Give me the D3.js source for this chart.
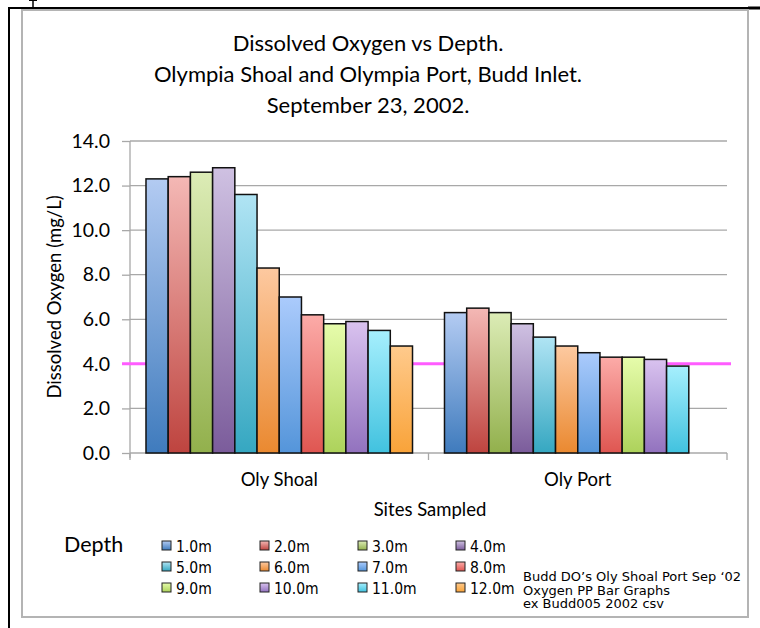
<!DOCTYPE html>
<html>
<head>
<meta charset="utf-8">
<script src="https://cdn.jsdelivr.net/npm/d3@7"></script>
<style>
  body { margin: 0; background: #fff; }
  svg { display: block; }
  .title { font-family: Lato, "Open Sans", sans-serif; font-size: 22px; fill: #000; }
  .axis-text { font-family: Lato, "Open Sans", sans-serif; font-size: 18.5px; fill: #000; }
  .leg-text { font-family: "DejaVu Sans Condensed", "DejaVu Sans", sans-serif; font-stretch: condensed; font-size: 15.5px; fill: #000; }
  .note { font-family: "DejaVu Sans", sans-serif; font-size: 13px; fill: #000; }
</style>
</head>
<body>
<div id="chart"></div>
<script>
var width = 760;
var height = 628;

// data
var sites = ["Oly Shoal", "Oly Port"];
var depths = ["1.0m", "2.0m", "3.0m", "4.0m", "5.0m", "6.0m",
              "7.0m", "8.0m", "9.0m", "10.0m", "11.0m", "12.0m"];
var shoalDO = [12.3, 12.4, 12.6, 12.8, 11.6, 8.3, 7.0, 6.2, 5.8, 5.9, 5.5, 4.8];
var portDO = [6.3, 6.5, 6.3, 5.8, 5.2, 4.8, 4.5, 4.3, 4.3, 4.2, 3.9];
var yTicks = [0, 2, 4, 6, 8, 10, 12, 14];
var threshold = 4.0;
var titleLines = ["Dissolved Oxygen vs Depth.",
                  "Olympia Shoal and Olympia Port, Budd Inlet.",
                  "September 23, 2002."];
var notes = ["Budd DO\u2019s Oly Shoal Port Sep \u201802",
             "Oxygen PP Bar Graphs",
             "ex Budd005 2002 csv"];

// excel-ish gradient palette (top, bottom)
var topColors = ["#b3cbf2", "#f4b8b5", "#dcecb6", "#cfc1e2", "#b0e4f4", "#fdc9a0",
                 "#abcbfc", "#fcaba8", "#e6fcab", "#d9c2ef", "#a6effd", "#ffca8c"];
var botColors = ["#3f7bbd", "#be443f", "#92b04c", "#7b5c9b", "#35a7c1", "#ea8930",
                 "#5495da", "#df5651", "#add25b", "#9272be", "#41c2df", "#f9a339"];

var rows = [];
shoalDO.forEach(function(v, i) { rows.push({site: sites[0], depth: depths[i], i: i, value: v}); });
portDO.forEach(function(v, i) { rows.push({site: sites[1], depth: depths[i], i: i, value: v}); });

var svg = d3.select("#chart").append("svg")
  .attr("width", width)
  .attr("height", height);

var defs = svg.append("defs");
depths.forEach(function(d, i) {
  var g = defs.append("linearGradient")
    .attr("id", "grad" + i)
    .attr("x1", 0).attr("y1", 0).attr("x2", 0).attr("y2", 1);
  g.append("stop").attr("offset", "0%").attr("stop-color", topColors[i]);
  g.append("stop").attr("offset", "100%").attr("stop-color", botColors[i]);
});

// page frame bits
svg.append("line").attr("x1", 9).attr("x2", 9).attr("y1", 7).attr("y2", height)
  .attr("stroke", "#000").attr("stroke-width", 2);
svg.append("line").attr("x1", 8).attr("x2", 748).attr("y1", 8).attr("y2", 8)
  .attr("stroke", "#000").attr("stroke-width", 2);
svg.append("line").attr("x1", 748).attr("x2", width).attr("y1", 8).attr("y2", 8)
  .attr("stroke", "#000").attr("stroke-width", 3);
svg.append("line").attr("x1", 33).attr("x2", 33).attr("y1", 0).attr("y2", 7)
  .attr("stroke", "#000").attr("stroke-width", 1.5);
svg.append("line").attr("x1", 29).attr("x2", 37).attr("y1", 0.5).attr("y2", 0.5)
  .attr("stroke", "#000").attr("stroke-width", 1);

// chart box
svg.append("rect")
  .attr("x", 22).attr("y", 10)
  .attr("width", 726).attr("height", 607)
  .attr("fill", "#fff")
  .attr("stroke", "#b4b4b4")
  .attr("stroke-width", 2);

// title
svg.append("g").selectAll("text")
  .data(titleLines)
  .enter().append("text")
  .attr("class", "title")
  .attr("x", 368)
  .attr("y", function(d, i) { return 51 + i * 31; })
  .attr("text-anchor", "middle")
  .text(function(d) { return d; });

// scales
var x0 = d3.scaleBand().domain(sites).range([130, 727]).paddingInner(0).paddingOuter(0);
var x1 = d3.scaleBand().domain(depths).range([0, x0.bandwidth()]).paddingInner(0).paddingOuter(0.72);
var y = d3.scaleLinear().domain([0, 14]).range([453, 141]);

// gridlines
svg.append("g").selectAll("line")
  .data(yTicks.slice(1))
  .enter().append("line")
  .attr("x1", 130).attr("x2", 727)
  .attr("y1", function(d) { return y(d); })
  .attr("y2", function(d) { return y(d); })
  .attr("stroke", "#a8a8a8").attr("stroke-width", 1.3);

// y axis
var yAxis = d3.axisLeft(y)
  .tickValues(yTicks)
  .tickSize(8)
  .tickPadding(12)
  .tickFormat(d3.format(".1f"));
var ya = svg.append("g").attr("transform", "translate(130,0)").call(yAxis);
ya.select(".domain").attr("stroke", "#a8a8a8").attr("stroke-width", 1.3).attr("d", "M0," + y(14) + "V458");
ya.selectAll(".tick line").attr("stroke", "#a8a8a8").attr("stroke-width", 1.3);
ya.selectAll(".tick text").attr("class", "axis-text").attr("fill", "#000").style("font-size", "19.5px")
  .style("font-family", "Lato, 'Open Sans', sans-serif");

// x axis
svg.append("line").attr("x1", 130).attr("x2", 727).attr("y1", y(0)).attr("y2", y(0))
  .attr("stroke", "#a8a8a8").attr("stroke-width", 1.3);
svg.append("g").selectAll("line")
  .data(sites.concat(["end"]))
  .enter().append("line")
  .attr("x1", function(d, i) { return 130 + i * x0.bandwidth(); })
  .attr("x2", function(d, i) { return 130 + i * x0.bandwidth(); })
  .attr("y1", y(0)).attr("y2", y(0) + 7)
  .attr("stroke", "#a8a8a8").attr("stroke-width", 1.3);

// threshold line
svg.append("line")
  .attr("x1", 122).attr("x2", 731)
  .attr("y1", y(threshold)).attr("y2", y(threshold))
  .attr("stroke", "#ff5cff").attr("stroke-width", 3);

// bars
svg.append("g").selectAll("rect")
  .data(rows)
  .enter().append("rect")
  .attr("x", function(d) { return x0(d.site) + x1(d.depth); })
  .attr("y", function(d) { return y(d.value); })
  .attr("width", x1.bandwidth())
  .attr("height", function(d) { return y(0) - y(d.value); })
  .attr("fill", function(d) { return "url(#grad" + d.i + ")"; })
  .attr("stroke", "#111")
  .attr("stroke-width", 1.5);

// axis titles
svg.append("text")
  .attr("class", "axis-text")
  .attr("transform", "translate(61," + y(7) + ") rotate(-90)")
  .attr("text-anchor", "middle")
  .text("Dissolved Oxygen (mg/L)");

svg.append("g").selectAll("text")
  .data(sites)
  .enter().append("text")
  .attr("class", "axis-text")
  .attr("x", function(d) { return x0(d) + x0.bandwidth() / 2; })
  .attr("y", 486)
  .attr("text-anchor", "middle")
  .text(function(d) { return d; });

svg.append("text")
  .attr("class", "axis-text")
  .attr("x", 430).attr("y", 516)
  .attr("text-anchor", "middle")
  .text("Sites Sampled");

// legend
svg.append("text")
  .attr("class", "title")
  .style("font-size", "21.5px")
  .attr("x", 64).attr("y", 552)
  .text("Depth");

var leg = svg.append("g").selectAll("g")
  .data(depths)
  .enter().append("g")
  .attr("transform", function(d, i) {
    return "translate(" + (162 + (i % 4) * 98) + "," + (541 + Math.floor(i / 4) * 21) + ")";
  });
leg.append("rect")
  .attr("width", 9).attr("height", 9)
  .attr("fill", function(d, i) { return "url(#grad" + i + ")"; })
  .attr("stroke", "#222").attr("stroke-width", 1);
leg.append("text")
  .attr("class", "leg-text")
  .attr("x", 14).attr("y", 10.5)
  .text(function(d) { return d; });

svg.append("g").selectAll("text")
  .data(notes)
  .enter().append("text")
  .attr("class", "note")
  .attr("x", 523)
  .attr("y", function(d, i) { return 581 + i * 13.5; })
  .text(function(d) { return d; });
</script>
</body>
</html>
